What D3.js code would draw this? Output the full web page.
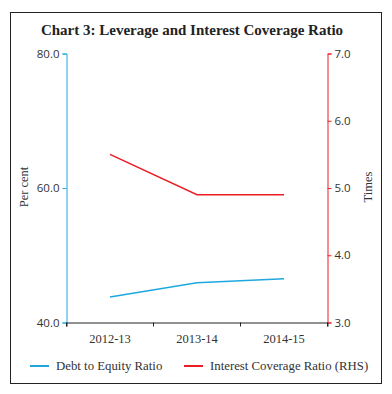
<!DOCTYPE html>
<html><head><meta charset="utf-8">
<script src="https://cdn.jsdelivr.net/npm/d3@7"></script>
<style>body{margin:0;background:#fff;} svg{display:block;}</style>
</head><body>
<script>
const categories = ["2012-13", "2013-14", "2014-15"];
const debtEquity = [43.8, 45.9, 46.5];
const interestCoverage = [5.5, 4.9, 4.9];
const leftTicks = [40, 60, 80];
const rightTicks = [3, 4, 5, 6, 7];
const title = "Chart 3: Leverage and Interest Coverage Ratio";
const legendLabels = ["Debt to Equity Ratio", "Interest Coverage Ratio (RHS)"];

const W = 392, H = 394;
const blue = "#1fa8e0", red = "#ed1c24";
const font = "'Liberation Serif', 'DejaVu Serif', serif";
const sans = "'Open Sans', 'Liberation Sans', sans-serif";
const svg = d3.select("body").append("svg").attr("width", W).attr("height", H);

svg.append("rect").attr("x", 10.5).attr("y", 12.5).attr("width", 371).attr("height", 371)
  .attr("fill", "none").attr("stroke", "#222").attr("stroke-width", 1);

svg.append("text").attr("x", 192).attr("y", 35).attr("text-anchor", "middle")
  .attr("font-family", font).attr("font-weight", "bold").attr("font-size", 15).attr("fill", "#222")
  .text(title);

const x0 = 66.5, x1 = 327.5, yTop = 53.5, yBot = 322.5;
const x = d3.scaleBand().domain(categories).range([x0, x1]);
const yL = d3.scaleLinear().domain([40, 80]).range([yBot, yTop]);
const yR = d3.scaleLinear().domain([3, 7]).range([yBot, yTop]);

const gL = svg.append("g").attr("transform", `translate(${x0},0)`)
  .call(d3.axisLeft(yL).tickValues(leftTicks).tickFormat(d3.format(".1f")).tickSize(4).tickPadding(3));
gL.selectAll("path,line").attr("stroke", blue);
gL.selectAll("text").attr("font-family", sans).attr("font-size", 11.5).attr("fill", "#333");

const gR = svg.append("g").attr("transform", `translate(${x1},0)`)
  .call(d3.axisRight(yR).tickValues(rightTicks).tickFormat(d3.format(".1f")).tickSize(4).tickPadding(3));
gR.selectAll("path,line").attr("stroke", red);
gR.selectAll("text").attr("font-family", sans).attr("font-size", 11.5).attr("fill", "#333");

const gB = svg.append("g").attr("transform", `translate(0,${yBot})`)
  .call(d3.axisBottom(x).tickSize(4).tickPadding(8).tickSizeOuter(4));
gB.selectAll("path,line").attr("stroke", "#222");
gB.selectAll("text").attr("font-family", font).attr("font-size", 12.5).attr("fill", "#333");
gB.selectAll(".tick line").remove();
const bounds = [x0, ...categories.map(c => x(c) + x.bandwidth())];
gB.selectAll("line.bd").data(bounds).enter().append("line")
  .attr("x1", d => d).attr("x2", d => d).attr("y1", 0).attr("y2", 4).attr("stroke", "#222");

svg.append("text").attr("transform", "translate(28,187) rotate(-90)").attr("text-anchor", "middle")
  .attr("font-family", font).attr("font-size", 12.5).attr("fill", "#333").text("Per cent");
svg.append("text").attr("transform", "translate(372,187) rotate(-90)").attr("text-anchor", "middle")
  .attr("font-family", font).attr("font-size", 12.5).attr("fill", "#333").text("Times");

const cx = c => x(c) + x.bandwidth() / 2;
svg.append("path").datum(debtEquity)
  .attr("d", d3.line().x((d, i) => cx(categories[i])).y(d => yL(d)))
  .attr("fill", "none").attr("stroke", blue).attr("stroke-width", 1.5);
svg.append("path").datum(interestCoverage)
  .attr("d", d3.line().x((d, i) => cx(categories[i])).y(d => yR(d)))
  .attr("fill", "none").attr("stroke", red).attr("stroke-width", 1.5);

const leg = [{x: 30, c: blue, t: legendLabels[0]}, {x: 184, c: red, t: legendLabels[1]}];
leg.forEach(l => {
  svg.append("line").attr("x1", l.x).attr("x2", l.x + 19).attr("y1", 366).attr("y2", 366)
    .attr("stroke", l.c).attr("stroke-width", 2);
  svg.append("text").attr("x", l.x + 26).attr("y", 370).attr("font-family", font)
    .attr("font-size", 12.8).attr("fill", "#333").text(l.t);
});
</script>
</body></html>
